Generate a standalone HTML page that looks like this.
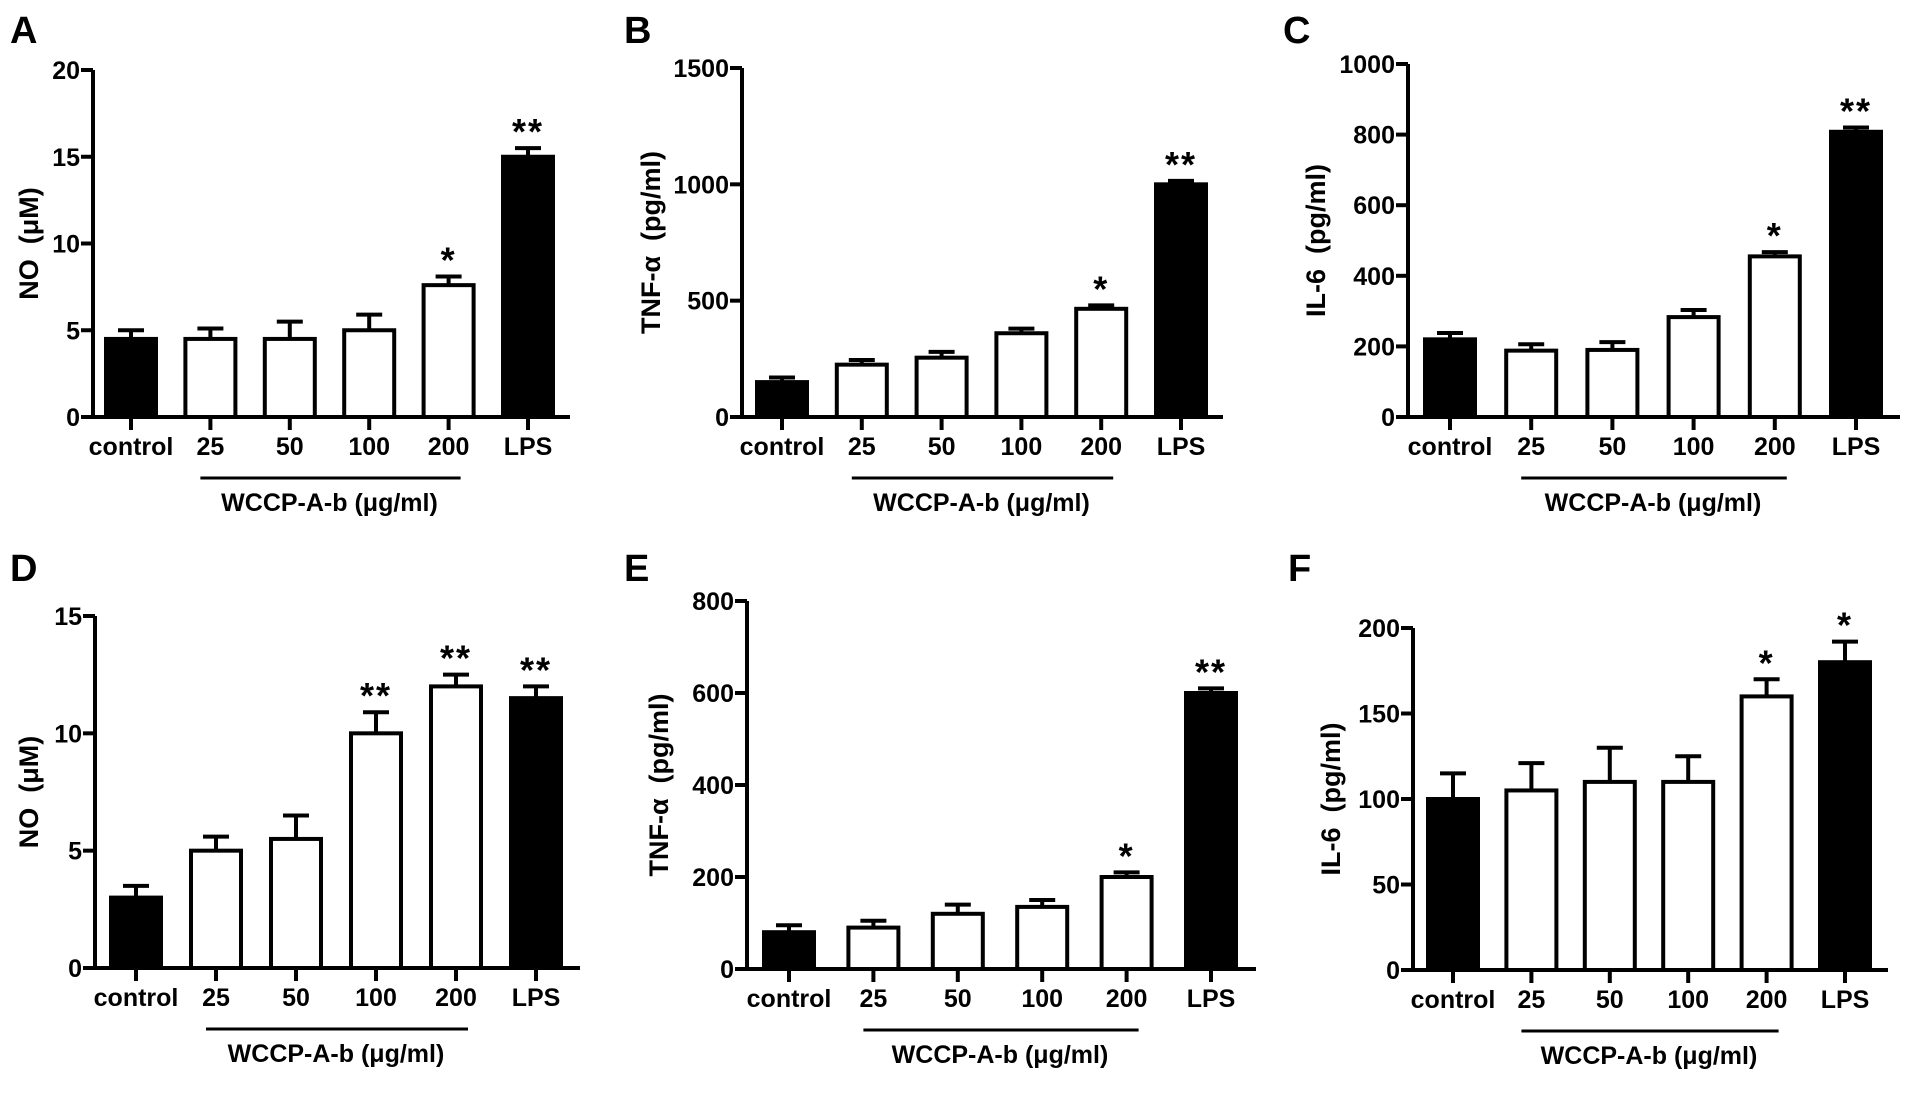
<!DOCTYPE html>
<html><head><meta charset="utf-8"><style>
html,body{margin:0;padding:0;background:#fff;}
svg{display:block;font-family:"Liberation Sans",Arial,sans-serif;font-weight:bold;}
svg text{white-space:pre;}
</style></head><body>
<svg id="fig" width="1913" height="1095" viewBox="0 0 1913 1095"></svg>
<script>
const categories = ["control","25","50","100","200","LPS"];
const fillBlack = [true,false,false,false,false,true];
const aMeans = [4.5,4.5,4.5,5,7.6,15];
const aErrs = [0.5,0.6,1.0,0.9,0.5,0.5];
const aStars = ["","","","","*","**"];
const aTicks = [0,5,10,15,20];
const bMeans = [150,225,255,360,465,1000];
const bErrs = [20,20,25,20,15,15];
const bStars = ["","","","","*","**"];
const bTicks = [0,500,1000,1500];
const cMeans = [220,188,190,283,455,808];
const cErrs = [18,18,22,20,12,12];
const cStars = ["","","","","*","**"];
const cTicks = [0,200,400,600,800,1000];
const dMeans = [3,5,5.5,10,12,11.5];
const dErrs = [0.5,0.6,1.0,0.9,0.5,0.5];
const dStars = ["","","","**","**","**"];
const dTicks = [0,5,10,15];
const eMeans = [80,90,120,135,200,600];
const eErrs = [15,15,20,15,10,10];
const eStars = ["","","","","*","**"];
const eTicks = [0,200,400,600,800];
const fMeans = [100,105,110,110,160,180];
const fErrs = [15,16,20,15,10,12];
const fStars = ["","","","","*","*"];
const fTicks = [0,50,100,150,200];

const NS="http://www.w3.org/2000/svg";
const svg=document.getElementById('fig');
function mk(tag,attrs,parent){const e=document.createElementNS(NS,tag);for(const k in attrs)e.setAttribute(k,attrs[k]);(parent||svg).appendChild(e);return e;}

function drawPanel(p){
  const g=mk('g',{});
  
  
  const ymax=p.ticks[p.ticks.length-1];
  const y=v=>p.y0-(v/ymax)*(p.y0-p.yTop);
  const step=(p.xLast-p.xFirst)/(categories.length-1);
  const x=i=>p.xFirst+i*step;
  const bw=50;
  const L=mk('text',{x:p.lx,y:p.ly,'font-size':38},g);L.textContent=p.letter;
  
  
  categories.forEach((c,i)=>{
    const top=y(p.means[i]);
    const r=mk('rect',{x:x(i)-bw/2,y:top,width:bw,height:p.y0-top,fill:fillBlack[i]?'#000':'#fff',stroke:'#000','stroke-width':4},g);
    
    
    const et=y(p.means[i]+p.errs[i]);
    const eb=mk('path',{d:`M${x(i)} ${top} V${et} M${x(i)-13} ${et} H${x(i)+13}`,stroke:'#000','stroke-width':4,fill:'none'},g);
    
    
    if(p.stars[i]){
      const s=mk('text',{x:x(i),y:et-4,'text-anchor':'middle','font-size':36,'letter-spacing':2},g);s.textContent=p.stars[i];
      
      
    }
    const t=mk('line',{x1:x(i),x2:x(i),y1:p.y0,y2:p.y0+13,stroke:'#000','stroke-width':4},g);
    
    
    const tl=mk('text',{x:x(i),y:p.y0+38,'text-anchor':'middle','font-size':25},g);tl.textContent=c;
    
    
  });
  const ax=mk('path',{d:`M${p.ax} ${p.yTop} V${p.y0} H${p.xEnd}`,stroke:'#000','stroke-width':4,fill:'none'},g);
  
  
  p.ticks.forEach(v=>{
    const t=mk('line',{x1:p.ax-12,x2:p.ax,y1:y(v),y2:y(v),stroke:'#000','stroke-width':4},g);
    
    
    const tl=mk('text',{x:p.ax-13,y:y(v)+9,'text-anchor':'end','font-size':25},g);tl.textContent=v;
    
    
  });
  const yt=mk('text',{x:0,y:0,'text-anchor':'middle','font-size':27,transform:`translate(${p.tx},${(p.yTop+p.y0)/2}) rotate(-90)`},g);
  yt.textContent=p.title;
  
  
  const ul=mk('line',{x1:x(1)-10,x2:x(4)+12,y1:p.y0+61,y2:p.y0+61,stroke:'#000','stroke-width':3},g);
  
  
  const xt=mk('text',{x:(x(1)+x(4))/2,y:p.y0+94,'text-anchor':'middle','font-size':25},g);
  xt.textContent='WCCP-A-b (μg/ml)';
  
  
}
drawPanel({letter:'A',lx:10,ly:43,ax:93,yTop:70,y0:417,xFirst:131,xLast:528,xEnd:570,means:aMeans,errs:aErrs,stars:aStars,ticks:aTicks,title:'NO  (μM)',tx:38});
drawPanel({letter:'B',lx:624,ly:43,ax:742,yTop:68,y0:417,xFirst:782,xLast:1181,xEnd:1223,means:bMeans,errs:bErrs,stars:bStars,ticks:bTicks,title:'TNF-α  (pg/ml)',tx:660});
drawPanel({letter:'C',lx:1283,ly:43,ax:1408,yTop:64,y0:417,xFirst:1450,xLast:1856,xEnd:1900,means:cMeans,errs:cErrs,stars:cStars,ticks:cTicks,title:'IL-6  (pg/ml)',tx:1325});
drawPanel({letter:'D',lx:10,ly:581,ax:95,yTop:616,y0:968,xFirst:136,xLast:536,xEnd:580,means:dMeans,errs:dErrs,stars:dStars,ticks:dTicks,title:'NO  (μM)',tx:38});
drawPanel({letter:'E',lx:624,ly:581,ax:747,yTop:601,y0:969,xFirst:789,xLast:1211,xEnd:1256,means:eMeans,errs:eErrs,stars:eStars,ticks:eTicks,title:'TNF-α  (pg/ml)',tx:668});
drawPanel({letter:'F',lx:1288,ly:581,ax:1413,yTop:628,y0:970,xFirst:1453,xLast:1845,xEnd:1888,means:fMeans,errs:fErrs,stars:fStars,ticks:fTicks,title:'IL-6  (pg/ml)',tx:1340});
</script>
</body></html>
